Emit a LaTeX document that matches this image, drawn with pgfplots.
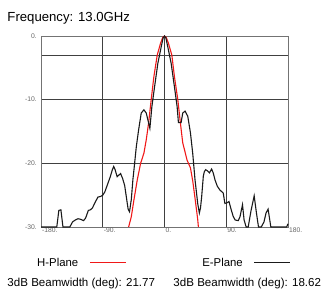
\documentclass[border=0pt]{standalone}
\usepackage{fontspec}
\setmainfont{Liberation Sans}
\usepackage{graphicx}
\usepackage{pgfplots}
\pgfplotsset{compat=1.18}
\definecolor{hred}{HTML}{F01818}
\definecolor{eblack}{HTML}{1A1A1A}
\begin{document}
\begin{tikzpicture}[x=1bp,y=1bp]
\path[use as bounding box] (0,0) rectangle (325,291);
\begin{axis}[
  at={(41bp,64bp)}, anchor=south west,
  scale only axis, width=247bp, height=191bp,
  xmin=-180, xmax=180, ymin=-30, ymax=0,
  xtick={-180,-90,0,90,180},
  xticklabels={-180.,-90.,0.,90.,180.},
  ytick={-30,-20,-10,-3,0},
  yticklabels={-30.,-20.,-10.,,0.},
  major tick length=0pt,
  grid=major,
  major grid style={line width=0.6bp, draw=black!75},
  axis line style={line width=0.7bp, draw=black!55},
  xticklabel style={anchor=north west, inner sep=0pt, xshift=1bp, yshift=-1bp, text=black!60, font=\fontsize{6.8}{7}\selectfont},
  yticklabel style={anchor=east, inner sep=0pt, xshift=-4bp, text=black!60, font=\fontsize{6.8}{7}\selectfont},
  clip=false,
  legend plot pos=right,
  legend columns=2,
  legend image code/.code={\draw[#1] (0bp,0bp) -- (36bp,0bp);},
  legend style={at={(-0.016,-0.187)}, anchor=west, draw=none, fill=none,
    inner sep=0pt, font=\fontsize{11.4}{13}\selectfont,
    nodes={inner sep=0pt},
    /tikz/every odd column/.style={column sep=11bp},
    /tikz/every even column/.style={column sep=76bp}},
]
\addplot[hred, line width=1.1bp] coordinates {
(-52.3,-30) (-48.4,-28.4) (-44.5,-25.7) (-39.7,-22.6) (-34.8,-20) (-30,-18.4)
(-26.6,-16.3) (-23.2,-13.7) (-19.4,-10) (-15.5,-6.4) (-10.6,-3) (-5.8,-1.15)
(-2.5,-0.2) (0,0) (2.5,-0.2) (5.8,-1.15) (10.7,-3) (14.5,-6.4) (19.4,-10)
(23.2,-13.7) (26.6,-16.8) (29,-17.8) (32.9,-19.5) (37.8,-20.7) (41.2,-22.8)
(45,-25.9) (48.4,-28.8) (49.4,-30)
};
\addlegendentry{H-Plane}
\addplot[eblack, line width=1.1bp] coordinates {
(-180,-30) (-157,-30) (-154,-27.4) (-151,-27.3) (-148,-30) (-138,-30)
(-134,-29.2) (-130,-28.9) (-126,-28.7) (-122,-28.8) (-118,-29.0) (-115,-28.6)
(-111,-27.4) (-108,-27.3) (-105,-27.0) (-101,-26.1) (-97,-25.3) (-93,-25.2)
(-90,-25.0) (-87,-24.5) (-83,-23.3) (-79,-22.1) (-76,-21.0) (-74,-20.5)
(-72,-21.0) (-69,-22.1) (-66,-21.8) (-64,-21.6) (-61,-22.4) (-58,-23.5)
(-56,-25.0) (-53,-27.2) (-51,-27.6) (-48.4,-25.7) (-46,-22.5) (-44.5,-21)
(-41.1,-17.4) (-37.8,-14.8) (-33.9,-12.1) (-30,-11.6) (-26.6,-12.1)
(-23.5,-13.5) (-21.3,-14.5) (-18.4,-11.1) (-14.5,-8) (-9.7,-4.3) (-4.8,-1.7)
(-2,-0.3) (0,0) (2,-0.3) (4.8,-1.7) (9.7,-4.3) (14.5,-8) (18.4,-11.1)
(20.3,-13.6) (24.2,-13.6) (26.6,-12.1) (30,-11.8) (33.9,-12.6) (37.8,-15.2)
(41.1,-18.4) (44.5,-22.6) (48.4,-26.3) (50.8,-27.8) (52.5,-27) (54.2,-25.2)
(56.6,-22) (58.1,-21.3) (60,-21) (62.9,-21.2) (65.5,-21.5) (68.7,-20.9)
(71,-21.5) (73.6,-22.6) (77,-23.6) (80.8,-24.2) (84,-24.5) (85.7,-24.7)
(88,-26.3) (91,-26.2) (94,-26.0) (97,-27.2) (100,-28.3) (103,-28.9)
(107.5,-29) (110,-28.4) (113.7,-26.5) (116,-28.9) (119,-30) (122,-30)
(126,-27.5) (130.7,-25.1) (134,-27.8) (137,-30) (141,-30) (145,-29.2)
(148,-27.8) (151,-27.2) (153,-28.6) (155,-30) (178,-30) (180,-29.5)
};
\addlegendentry{E-Plane}
\end{axis}
\node[anchor=base west, inner sep=0pt, font=\fontsize{13.2}{15}\selectfont] at (7.3,270) {Frequency: 13.0GHz};
\node[anchor=base west, inner sep=0pt, font=\fontsize{11.6}{13}\selectfont] at (7.3,5) {3dB Beamwidth (deg): 21.77};
\node[anchor=base west, inner sep=0pt, font=\fontsize{11.6}{13}\selectfont] at (173.3,5) {3dB Beamwidth (deg): 18.62};
\end{tikzpicture}
\end{document}
